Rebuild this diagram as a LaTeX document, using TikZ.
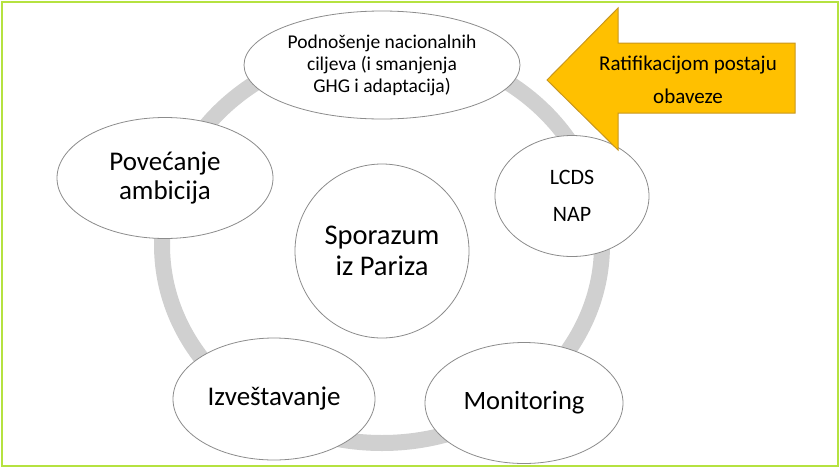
\documentclass[tikz,border=0pt]{standalone}
\usepackage{fontspec}
\setmainfont{Carlito}
\usetikzlibrary{shapes}
\definecolor{okvir}{RGB}{181,226,64}
\definecolor{prsten}{RGB}{208,208,208}
\definecolor{zuta}{RGB}{255,192,0}
\definecolor{zutaokvir}{RGB}{200,150,30}
\tikzstyle{el}=[ellipse,draw=gray!90,line width=.8pt,fill=white,inner sep=0pt,align=center]
\tikzstyle{krug}=[circle,draw=gray!90,line width=.8pt,fill=white,inner sep=0pt,align=center,minimum size=174pt]

\begin{document}
\begin{tikzpicture}[x=1pt,y=-1pt]
\useasboundingbox (0,0) rectangle (840,469);
\draw[okvir,line width=2.5pt] (2,2) rectangle (838,466);
\draw[prsten,line width=16pt] (382,245) ellipse [x radius=220,y radius=198];
\node[el,minimum width=276pt,minimum height=108pt,font=\fontsize{19.5}{22}\selectfont] (podn) at (382,65) {Podnošenje nacionalnih\\ciljeva (i smanjenja\\GHG i adaptacija)};
\node[el,minimum width=216pt,minimum height=121pt,font=\fontsize{27}{29}\selectfont] (amb) at (165,178) {Povećanje\\ambicija};
\node[el,minimum width=154pt,minimum height=121pt,font=\fontsize{22}{37}\selectfont] (lcds) at (572,196) {LCDS\\NAP};
\node[el,minimum width=198pt,minimum height=121pt,font=\fontsize{26.5}{29}\selectfont] (mon) at (524,403) {Monitoring};
\node[el,minimum width=202pt,minimum height=122pt,font=\fontsize{27}{29}\selectfont] (izv) at (274,399) {Izveštavanje};
\node[krug,font=\fontsize{28.5}{31}\selectfont] (pariz) at (382,251) {Sporazum\\iz Pariza};
\filldraw[fill=zuta,draw=zutaokvir,line width=1pt] (547,80) -- (618,8) -- (618,43) -- (795,43) -- (795,113) -- (618,113) -- (618,150) -- cycle;
\node[align=center,font=\fontsize{21}{33}\selectfont] (ratif) at (688,80) {Ratifikacijom postaju\\obaveze};
\end{tikzpicture}
\end{document}
